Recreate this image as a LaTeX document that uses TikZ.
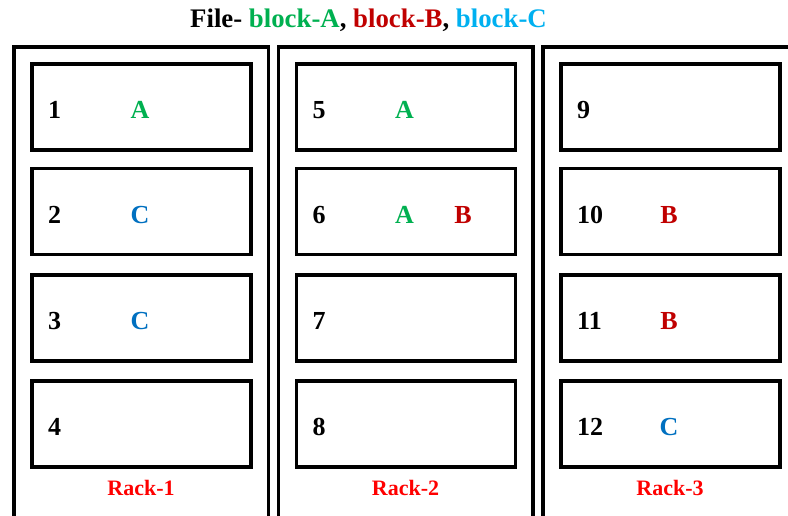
\documentclass[tikz,border=0pt]{standalone}
\usepackage{fontspec}
\setmainfont{Liberation Serif}
\usetikzlibrary{positioning}
\definecolor{blkA}{HTML}{00B050}
\definecolor{blkB}{HTML}{C00000}
\definecolor{blkC}{HTML}{0070C0}
\definecolor{titleC}{HTML}{00B0F0}
\definecolor{rackred}{HTML}{FF0000}

\begin{document}
\begin{tikzpicture}[x=1pt, y=-1pt,
  rackline/.style={line width=3.8pt},
  slot/.style={draw, line width=3.8pt, minimum width=219pt, minimum height=86pt, inner sep=0pt},
  slotno/.style={inner sep=0pt, anchor=base west, font=\fontsize{26}{30}\selectfont\bfseries},
  letter/.style={inner sep=0pt, anchor=base, font=\fontsize{26}{30}\selectfont\bfseries},
  racklabel/.style={inner sep=0pt, anchor=base, text=rackred, font=\fontsize{22}{26}\selectfont\bfseries}]
  \useasboundingbox (0,0) rectangle (788,515);
  % Title
  \node[inner sep=0pt, anchor=base, font=\fontsize{26.8}{30}\selectfont\bfseries] (title) at (368.5,27)
    {File- \textcolor{blkA}{block-A}, \textcolor{blkB}{block-B}, \textcolor{titleC}{block-C}};
  % Racks and slots
  \foreach \r/\x in {1/14, 2/278.5, 3/543} {
    \draw[rackline] (\x,520) -- (\x,47) -- (\x+254.5,47) -- (\x+254.5,520);
    \node[racklabel] (rack\r) at (\x+127,495) {Rack-\r};
    \foreach \row/\y in {1/107, 2/211.5, 3/318, 4/424} {
      \pgfmathtruncatemacro\slotnum{4*(\r-1)+\row}
      \node[slot] (s\slotnum) at (\x+127.5,\y) {};
      \node[slotno] (n\slotnum) at (\x+34,\y+11.5) {\slotnum};
    }
  }
  % Blocks stored in the slots
  \foreach \s/\dx/\blk in {1/-1.5/A, 2/-1.5/C, 3/-1.5/C, 5/-1.5/A, 6/-1.5/A,
    6/57/B, 10/-1.5/B, 11/-1.5/B, 12/-1.5/C} {
    \path (s\s.center) ++(\dx,11.5) node[letter, text=blk\blk] (b\s\blk) {\blk};
  }
\end{tikzpicture}
\end{document}
